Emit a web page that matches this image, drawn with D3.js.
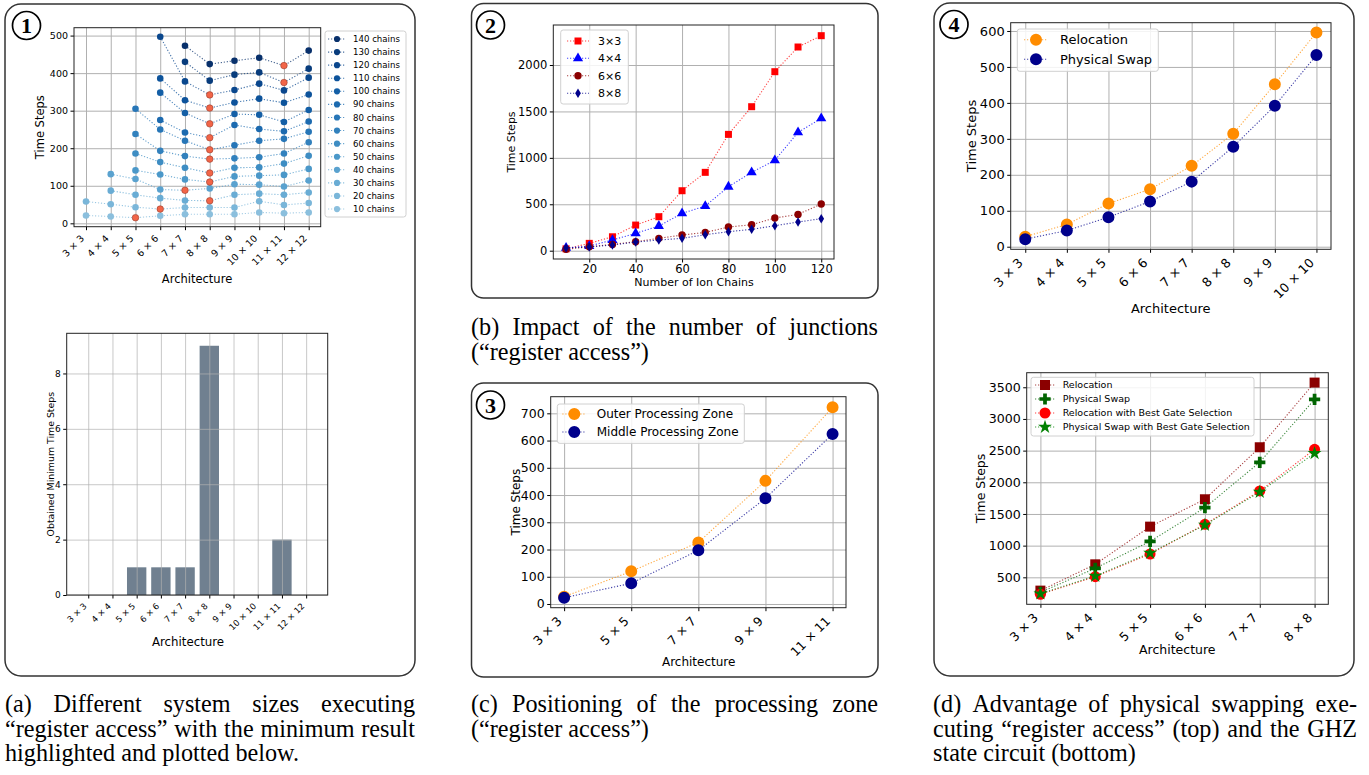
<!DOCTYPE html>
<html>
<head>
<meta charset="utf-8">
<script src="https://cdn.jsdelivr.net/npm/d3@7"></script>
<style>
  body { margin: 0; background: #fff; }
  svg { display: block; }
</style>
</head>
<body>
<svg id="fig" width="1369" height="775"></svg>
<script>
// ---------- data ----------
const archLabels = ["3 × 3", "4 × 4", "5 × 5", "6 × 6", "7 × 7", "8 × 8", "9 × 9", "10 × 10", "11 × 11", "12 × 12"];

// panel 1: time steps per architecture, one array per number of ion chains
const chainCounts = [10, 20, 30, 40, 50, 60, 70, 80, 90, 100, 110, 120, 130, 140];
const chains10  = [21, 18, 15, 20, 24, 24, 24, 29, 27, 29];
const chains20  = [58, 51, 43, 38, 42, 42, 42, 59, 49, 54];
const chains30  = [null, 87, 76, 67, 61, 60, 76, 79, 76, 82];
const chains40  = [null, 131, 118, 90, 88, 93, 104, 103, 98, 114];
const chains50  = [null, null, 141, 130, 117, 110, 125, 127, 129, 145];
const chains60  = [null, null, 186, 163, 148, 134, 148, 149, 159, 180];
const chains70  = [null, null, 238, 193, 179, 171, 173, 176, 186, 216];
const chains80  = [null, null, 305, 250, 220, 196, 208, 220, 225, 244];
const chains90  = [null, null, null, 275, 242, 228, 262, 251, 245, 271];
const chains100 = [null, null, null, 348, 294, 265, 291, 289, 270, 302];
const chains110 = [null, null, null, 386, 328, 307, 322, 332, 321, 343];
const chains120 = [null, null, null, 497, 378, 342, 355, 372, 354, 388];
const chains130 = [null, null, null, null, 430, 380, 396, 402, 375, 412];
const chains140 = [null, null, null, null, 473, 424, 433, 441, 420, 460];
const minCounts = [0, 0, 1, 1, 1, 9, 0, 0, 2, 0];

// panel 2: number of ion chains vs time steps
const ionChains = [10, 20, 30, 40, 50, 60, 70, 80, 90, 100, 110, 120];
const junction3x3 = [20, 79, 150, 276, 366, 646, 844, 1253, 1551, 1928, 2194, 2316];
const junction4x4 = [30, 50, 115, 187, 266, 402, 481, 689, 844, 973, 1275, 1425];
const junction6x6 = [15, 43, 68, 97, 133, 169, 197, 255, 280, 352, 391, 503];
const junction8x8 = [30, 40, 61, 93, 115, 133, 172, 205, 230, 269, 309, 345];

// panel 3: processing zone position
const zoneArchs = ["3 × 3", "5 × 5", "7 × 7", "9 × 9", "11 × 11"];
const outerZone  = [27, 120, 226, 452, 722];
const middleZone = [23, 76, 197, 388, 624];

// panel 4 top: register access
const swapArchs = archLabels.slice(0, 8);
const relocation   = [28, 62, 120, 160, 225, 314, 452, 596];
const physicalSwap = [21, 45, 82, 126, 181, 278, 392, 533];

// panel 4 bottom: GHZ state circuit
const ghzArchs = archLabels.slice(0, 6);
const ghzRelocation     = [290, 705, 1300, 1732, 2553, 3574];
const ghzSwap           = [263, 642, 1068, 1600, 2316, 3310];
const ghzRelocationBest = [232, 510, 868, 1337, 1863, 2521];
const ghzSwapBest       = [242, 521, 884, 1326, 1847, 2458];

// ---------- helpers ----------
const SANS = "DejaVu Sans";
const SERIF = "Liberation Serif";
const svg = d3.select("#fig");

function frame(x0, y0, x1, y1, r) {
  svg.append("rect")
    .attr("x", x0).attr("y", y0)
    .attr("width", x1 - x0).attr("height", y1 - y0)
    .attr("rx", r)
    .attr("fill", "none").attr("stroke", "#333").attr("stroke-width", 1.5);
}

function badge(cx, cy, num) {
  svg.append("circle").attr("cx", cx).attr("cy", cy).attr("r", 14)
    .attr("fill", "none").attr("stroke", "#000").attr("stroke-width", 1.7);
  svg.append("text").attr("x", cx).attr("y", cy + 7.5)
    .attr("text-anchor", "middle")
    .attr("font-family", SERIF).attr("font-weight", "bold").attr("font-size", 22)
    .text(num);
}

function markerPath(sym, size) {
  if (sym === "thin_diamond") {
    const h = Math.sqrt(size) * 0.75, w = h * 0.6;
    return `M0,${-h}L${w},0L0,${h}L${-w},0Z`;
  }
  const types = {
    circle: d3.symbolCircle, square: d3.symbolSquare, triangle: d3.symbolTriangle,
    plus: d3.symbolCross, star: d3.symbolStar
  };
  return d3.symbol().type(types[sym]).size(size)();
}

function panel(o) {
  const x = d3.scaleLinear().domain(o.xDom).range([o.l, o.r]);
  const y = d3.scaleLinear().domain(o.yDom).range([o.b, o.t]);
  const gridG = svg.append("g");
  const plotG = svg.append("g");
  if (o.gridOnTop) gridG.raise();

  gridG.append("g").attr("transform", `translate(0,${o.b})`)
    .call(d3.axisBottom(x).tickValues(o.xTicks).tickSize(-(o.b - o.t)).tickFormat(""))
    .call(s => s.select(".domain").remove())
    .selectAll("line").attr("stroke", "#b0b0b0").attr("stroke-width", 1)
    .attr("stroke-opacity", o.gridOnTop ? 0.7 : 1);
  gridG.append("g").attr("transform", `translate(${o.l},0)`)
    .call(d3.axisLeft(y).tickValues(o.yTicks).tickSize(-(o.r - o.l)).tickFormat(""))
    .call(s => s.select(".domain").remove())
    .selectAll("line").attr("stroke", "#b0b0b0").attr("stroke-width", 1)
    .attr("stroke-opacity", o.gridOnTop ? 0.7 : 1);

  const axG = svg.append("g");
  const xf = o.xFont, yf = o.yFont;
  const xa = axG.append("g").attr("transform", `translate(0,${o.b})`)
    .call(d3.axisBottom(x).tickValues(o.xTicks).tickFormat(o.xFmt).tickSize(3.5).tickPadding(2))
    .attr("font-family", SANS).attr("font-size", xf);
  xa.select(".domain").remove();
  if (o.rotate) {
    xa.selectAll("text")
      .attr("x", 0).attr("y", 0).attr("dy", null)
      .attr("text-anchor", "end")
      .attr("transform", `translate(${-0.17 * xf},${6 + 0.656 * xf}) rotate(-45)`);
  } else {
    xa.selectAll("text").attr("y", 0).attr("dy", null)
      .attr("transform", `translate(0,${5 + 0.76 * xf})`);
  }
  const ya = axG.append("g").attr("transform", `translate(${o.l},0)`)
    .call(d3.axisLeft(y).tickValues(o.yTicks).tickFormat(d3.format("d")).tickSize(3.5).tickPadding(2.5))
    .attr("font-family", SANS).attr("font-size", yf);
  ya.select(".domain").remove();

  axG.append("rect")
    .attr("x", o.l).attr("y", o.t).attr("width", o.r - o.l).attr("height", o.b - o.t)
    .attr("fill", "none").attr("stroke", "#222").attr("stroke-width", 1);

  axG.append("text")
    .attr("transform", `translate(${o.yLabelX},${(o.t + o.b) / 2}) rotate(-90)`)
    .attr("text-anchor", "middle")
    .attr("font-family", SANS).attr("font-size", o.yLabelFont)
    .text(o.yLabel);
  axG.append("text")
    .attr("x", o.xLabelCx).attr("y", o.xLabelY)
    .attr("text-anchor", "middle")
    .attr("font-family", SANS).attr("font-size", o.xLabelFont)
    .text(o.xLabel);
  return { x, y, plot: plotG };
}

function series(p, xs, ys, color, sym, size, fillFn) {
  const pts = ys.map((v, i) => ({ x: xs[i], v: v, i: i })).filter(d => d.v != null);
  p.plot.append("path").datum(pts)
    .attr("d", d3.line().x(d => p.x(d.x)).y(d => p.y(d.v)))
    .attr("fill", "none").attr("stroke", color)
    .attr("stroke-width", 1.1).attr("stroke-dasharray", "1.2,1.8").attr("stroke-opacity", 0.75);
  p.plot.append("g").selectAll("path").data(pts).enter().append("path")
    .attr("transform", d => `translate(${p.x(d.x)},${p.y(d.v)})`)
    .attr("d", markerPath(sym, size))
    .attr("fill", d => fillFn ? fillFn(d) : color)
    .attr("stroke", d => (fillFn && fillFn(d) !== color) ? "#9a3b2a" : "none")
    .attr("stroke-width", 0.6);
}

function legend(o) {
  const g = svg.append("g");
  g.append("rect")
    .attr("x", o.x0).attr("y", o.y0).attr("width", o.x1 - o.x0).attr("height", o.y1 - o.y0)
    .attr("rx", 2.5)
    .attr("fill", "#fff").attr("fill-opacity", 0.85)
    .attr("stroke", "#d0d0d0").attr("stroke-width", 1);
  o.items.forEach((it, i) => {
    const yy = o.ys[i];
    g.append("line")
      .attr("x1", o.markX - o.lineHalf).attr("x2", o.markX + o.lineHalf)
      .attr("y1", yy).attr("y2", yy)
      .attr("stroke", it.color).attr("stroke-width", 1.1)
      .attr("stroke-dasharray", "1.2,1.8").attr("stroke-opacity", 0.75);
    g.append("path")
      .attr("transform", `translate(${o.markX},${yy})`)
      .attr("d", markerPath(it.sym, it.size))
      .attr("fill", it.color);
    g.append("text")
      .attr("x", o.textX).attr("y", yy + o.font * 0.36)
      .attr("font-family", SANS).attr("font-size", o.font)
      .text(it.label);
  });
}

const CAP = 24.2;
function captionLine(text, x0, x1, y, justify) {
  const words = text.split(" ");
  const g = svg.append("g").attr("font-family", SERIF).attr("font-size", CAP);
  if (!justify) {
    g.append("text").attr("x", x0).attr("y", y).text(text);
    return;
  }
  const nodes = words.map(w => g.append("text").attr("y", y).text(w));
  const widths = nodes.map(n => n.node().getComputedTextLength());
  const gap = (x1 - x0 - d3.sum(widths)) / (words.length - 1);
  let cx = x0;
  nodes.forEach((n, i) => { n.attr("x", cx); cx += widths[i] + gap; });
}

// ---------- frames ----------
frame(5, 4, 415, 676, 16);
frame(471.5, 3.5, 878, 298, 12);
frame(471.5, 383, 878, 677, 12);
frame(934, 3, 1354, 676, 16);
badge(26.5, 25.5, "1");
badge(490.5, 25, "2");
badge(490.5, 405, "3");
badge(954, 24.5, "4");

// ---------- panel 1 top ----------
const archIdx = archLabels.map((d, i) => i);
const p1 = panel({
  l: 74, r: 320.7, t: 27.7, b: 226.7,
  xDom: [-0.485, 9.485], yDom: [-9, 521],
  xTicks: archIdx, xFmt: i => archLabels[i], yTicks: [0, 100, 200, 300, 400, 500],
  xFont: 9.5, yFont: 9.5, rotate: true,
  yLabel: "Time Steps", yLabelX: 43.5, yLabelFont: 11.5,
  xLabel: "Architecture", xLabelCx: 197, xLabelY: 283, xLabelFont: 11.5
});
const chainSeries = [chains10, chains20, chains30, chains40, chains50, chains60, chains70,
  chains80, chains90, chains100, chains110, chains120, chains130, chains140];
const chainColor = i => d3.interpolateBlues(0.42 + 0.58 * i / 13);
chainSeries.forEach((vals, k) => {
  const present = vals.filter(v => v != null);
  const minV = d3.min(present);
  const minI = vals.indexOf(minV);
  series(p1, archIdx, vals, chainColor(k), "circle", 34,
    d => d.i === minI ? "#f26548" : chainColor(k));
});
legend({
  x0: 325, y0: 31, x1: 406, y1: 217,
  items: chainCounts.map((c, k) => ({ label: c + " chains", color: chainColor(k), sym: "circle", size: 30 })).reverse(),
  ys: chainCounts.map((c, k) => 39 + k * 13.08),
  markX: 337, lineHalf: 9, textX: 353, font: 8.6
});

// ---------- panel 1 bottom (bars) ----------
const pb = panel({
  l: 66.7, r: 327.7, t: 333.3, b: 595,
  xDom: [-0.89, 9.89], yDom: [0, 9.45],
  xTicks: archIdx, xFmt: i => archLabels[i], yTicks: [0, 2, 4, 6, 8],
  xFont: 8.5, yFont: 9, rotate: true, gridOnTop: true,
  yLabel: "Obtained Minimum Time Steps", yLabelX: 53.5, yLabelFont: 9.4,
  xLabel: "Architecture", xLabelCx: 188, xLabelY: 645.5, xLabelFont: 11.8
});
pb.plot.selectAll("rect").data(minCounts).enter().append("rect")
  .attr("x", (d, i) => pb.x(i - 0.4))
  .attr("width", (d, i) => pb.x(i + 0.4) - pb.x(i - 0.4))
  .attr("y", d => pb.y(d))
  .attr("height", d => pb.y(0) - pb.y(d))
  .attr("fill", "#708090");

// ---------- panel 2 ----------
const p2 = panel({
  l: 553.3, r: 834, t: 25, b: 259,
  xDom: [4.5, 125.5], yDom: [-89.4, 2431],
  xTicks: [20, 40, 60, 80, 100, 120], xFmt: d3.format("d"), yTicks: [0, 500, 1000, 1500, 2000],
  xFont: 11.5, yFont: 11.5, rotate: false,
  yLabel: "Time Steps", yLabelX: 515, yLabelFont: 11,
  xLabel: "Number of Ion Chains", xLabelCx: 694, xLabelY: 285.5, xLabelFont: 11
});
const p2Items = [
  { label: "3×3", vals: junction3x3, color: "#ff0000", sym: "square", size: 49 },
  { label: "4×4", vals: junction4x4, color: "#0000ff", sym: "triangle", size: 45 },
  { label: "6×6", vals: junction6x6, color: "#8b0000", sym: "circle", size: 43 },
  { label: "8×8", vals: junction8x8, color: "#00008b", sym: "thin_diamond", size: 40 }
];
p2Items.forEach(s => series(p2, ionChains, s.vals, s.color, s.sym, s.size));
legend({
  x0: 560.7, y0: 30, x1: 628.3, y1: 104,
  items: p2Items, ys: [41, 58.3, 75.7, 93.3],
  markX: 578, lineHalf: 11, textX: 598, font: 11
});

// ---------- panel 3 ----------
const zoneIdx = zoneArchs.map((d, i) => i);
const p3 = panel({
  l: 550.7, r: 846, t: 396.7, b: 607.7,
  xDom: [-0.2, 4.2], yDom: [-13.6, 761],
  xTicks: zoneIdx, xFmt: i => zoneArchs[i], yTicks: [0, 100, 200, 300, 400, 500, 600, 700],
  xFont: 12.4, yFont: 12.5, rotate: true,
  yLabel: "Time Steps", yLabelX: 519.5, yLabelFont: 12,
  xLabel: "Architecture", xLabelCx: 698.7, xLabelY: 666, xLabelFont: 12
});
const p3Items = [
  { label: "Outer Processing Zone", vals: outerZone, color: "#ff8c00", sym: "circle", size: 113 },
  { label: "Middle Processing Zone", vals: middleZone, color: "#00008b", sym: "circle", size: 113 }
];
p3Items.forEach(s => series(p3, zoneIdx, s.vals, s.color, s.sym, s.size));
legend({
  x0: 557.3, y0: 404, x1: 744.3, y1: 443.3,
  items: p3Items, ys: [414, 432],
  markX: 574.3, lineHalf: 12, textX: 596.7, font: 12
});

// ---------- panel 4 top ----------
const swapIdx = swapArchs.map((d, i) => i);
const p4 = panel({
  l: 1010.7, r: 1331, t: 22.7, b: 249.3,
  xDom: [-0.35, 7.35], yDom: [-7.2, 623],
  xTicks: swapIdx, xFmt: i => swapArchs[i], yTicks: [0, 100, 200, 300, 400, 500, 600],
  xFont: 12.6, yFont: 13, rotate: true,
  yLabel: "Time Steps", yLabelX: 975.5, yLabelFont: 13,
  xLabel: "Architecture", xLabelCx: 1170.7, xLabelY: 313, xLabelFont: 13
});
const p4Items = [
  { label: "Relocation", vals: relocation, color: "#ff8c00", sym: "circle", size: 113 },
  { label: "Physical Swap", vals: physicalSwap, color: "#00008b", sym: "circle", size: 113 }
];
p4Items.forEach(s => series(p4, swapIdx, s.vals, s.color, s.sym, s.size));
legend({
  x0: 1017.3, y0: 29, x1: 1158.3, y1: 71.3,
  items: p4Items, ys: [39.7, 59.3],
  markX: 1036, lineHalf: 12, textX: 1060, font: 13
});

// ---------- panel 4 bottom ----------
const ghzIdx = ghzArchs.map((d, i) => i);
const p5 = panel({
  l: 1026.7, r: 1328.3, t: 372.7, b: 604.3,
  xDom: [-0.25, 5.25], yDom: [74, 3730],
  xTicks: ghzIdx, xFmt: i => ghzArchs[i], yTicks: [500, 1000, 1500, 2000, 2500, 3000, 3500],
  xFont: 12.3, yFont: 12.6, rotate: true,
  yLabel: "Time Steps", yLabelX: 984.8, yLabelFont: 12.5,
  xLabel: "Architecture", xLabelCx: 1177.3, xLabelY: 654, xLabelFont: 12.5
});
const p5Items = [
  { label: "Relocation", vals: ghzRelocation, color: "#8b0000", sym: "square", size: 100 },
  { label: "Physical Swap", vals: ghzSwap, color: "#006400", sym: "plus", size: 70 },
  { label: "Relocation with Best Gate Selection", vals: ghzRelocationBest, color: "#ff0000", sym: "circle", size: 95 },
  { label: "Physical Swap with Best Gate Selection", vals: ghzSwapBest, color: "#008000", sym: "star", size: 60 }
];
p5Items.forEach(s => series(p5, ghzIdx, s.vals, s.color, s.sym, s.size));
legend({
  x0: 1031, y0: 377.3, x1: 1254, y1: 436,
  items: p5Items, ys: [385, 399, 413, 427],
  markX: 1045, lineHalf: 10, textX: 1062.7, font: 9.5
});

// ---------- captions ----------
captionLine("(a) Different system sizes executing", 5, 415, 712, true);
captionLine("“register access” with the minimum result", 5, 415, 736.5, true);
captionLine("highlighted and plotted below.", 5, 415, 761, false);
captionLine("(b) Impact of the number of junctions", 471, 878, 335, true);
captionLine("(“register access”)", 471, 878, 359.5, false);
captionLine("(c) Positioning of the processing zone", 471, 878, 712, true);
captionLine("(“register access”)", 471, 878, 736.5, false);
captionLine("(d) Advantage of physical swapping exe-", 933, 1357, 712, true);
captionLine("cuting “register access” (top) and the GHZ", 933, 1357, 736.5, true);
captionLine("state circuit (bottom)", 933, 1357, 761, false);
</script>
</body>
</html>
